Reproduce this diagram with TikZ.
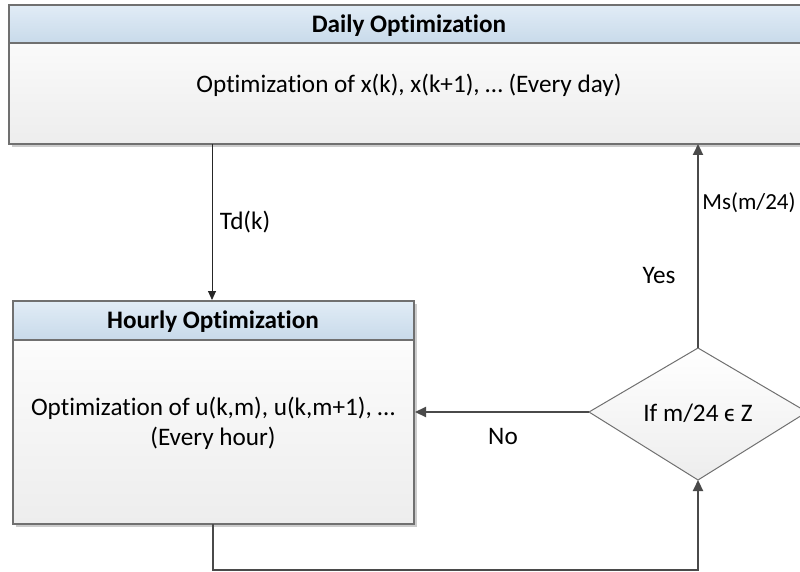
\documentclass[tikz,border=0pt]{standalone}
\usepackage{fontspec}
\setmainfont{Carlito}[Ligatures=NoCommon]
\usetikzlibrary{shapes.geometric,arrows.meta,shadows}
\definecolor{hdrtop}{HTML}{E1ECF6}
\definecolor{hdrbot}{HTML}{C8DAEA}
\definecolor{bodybot}{HTML}{EDEDED}
\definecolor{edge}{HTML}{707070}
\definecolor{darkline}{HTML}{4A4A4A}
\tikzset{
  boxbody/.style={draw=edge, line width=1.2pt, top color=white, bottom color=bodybot, drop shadow={shadow xshift=3pt, shadow yshift=-3pt, fill=black!20, opacity=1}},
  boxhdr/.style={draw=edge, line width=1.2pt, top color=hdrtop, bottom color=hdrbot},
  lbl/.style={font=\fontsize{25.2}{30}\selectfont, text=black},
  hdrlbl/.style={font=\fontsize{25.2}{30}\selectfont\bfseries, text=black},
  thinarrow/.style={draw=black!85, line width=0.9pt, -{Triangle[length=9pt,width=8pt]}},
  thickarrow/.style={draw=darkline, line width=2.2pt, -{Triangle[length=11pt,width=10pt]}},
}
\begin{document}
\begin{tikzpicture}[x=1pt,y=-1pt]
\useasboundingbox (0,0) rectangle (800,572);
\clip (0,0) rectangle (800,572);
% Daily box
\path[boxbody] (9,5) rectangle (815,144);
\path[boxhdr] (9,5) rectangle (815,43);
\node[hdrlbl] (dhdr) at (409,26) {Daily Optimization};
\node[lbl] (dtxt) at (409,85) {Optimization of x(k), x(k+1), … (Every day)};
\coordinate (dtd) at (212,144);
\coordinate (dms) at (698,144);
% Hourly box
\path[boxbody] (13,301) rectangle (414,524);
\path[boxhdr] (13,301) rectangle (414,340);
\node[hdrlbl] (hhdr) at (213,322) {Hourly Optimization};
\node[lbl, align=center] (htxt) at (213,423) {Optimization of u(k,m), u(k,m+1), …\\(Every hour)};
\coordinate (htop) at (212,300);
\coordinate (hright) at (415,412);
\coordinate (hbot) at (213,524);
% Diamond
\path[draw=edge, line width=1pt, top color=white, bottom color=bodybot] (589,412) -- (698,348) -- (807,412) -- (698,480) -- cycle;
\node[lbl] (dia) at (698,413) {If m/24 ϵ Z};
\coordinate (dleft) at (589,412);
\coordinate (dtop) at (698,348);
\coordinate (dbot) at (698,480);
\coordinate (c1) at (213,570);
\coordinate (c2) at (698,570);
% Connectors
\draw[thinarrow] (dtd) -- (htop);
\node[lbl] (tdk) at (245,222) {Td(k)};
\draw[thickarrow] (dtop) -- (dms);
\node[lbl, font=\fontsize{23}{28}\selectfont] (ms) at (749,203) {Ms(m/24)};
\node[lbl] (yes) at (659,276) {Yes};
\draw[thickarrow] (dleft) -- (hright);
\node[lbl] (no) at (503,436) {No};
\draw[thickarrow] (hbot) -- (c1) -- (c2) -- (dbot);
\end{tikzpicture}
\end{document}
